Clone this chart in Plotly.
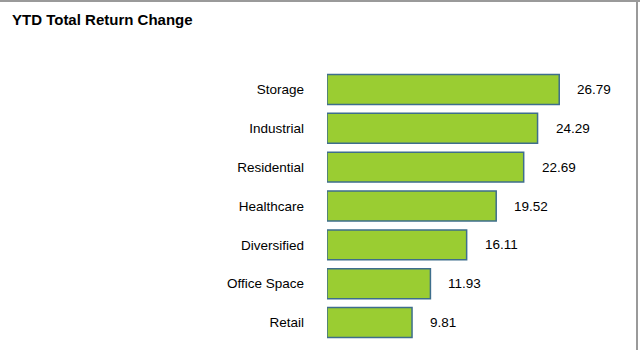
import plotly.graph_objects as go

# YTD total return change by REIT sector
sectors = ["Storage", "Industrial", "Residential", "Healthcare", "Diversified", "Office Space", "Retail"]
returns = [26.79, 24.29, 22.69, 19.52, 16.11, 11.93, 9.81]

W, H = 640, 350
L, R, T, B = 327, 20, 70, 8
x_max = 33.8
FONT = "Liberation Sans, Arial, sans-serif"

fig = go.Figure(
    go.Bar(
        y=sectors,
        x=returns,
        orientation="h",
        marker=dict(color="#9ACD32", line=dict(color="#3E6E8C", width=1.5)),
        hoverinfo="x+y",
    )
)

# value labels just right of each bar
for s, v in zip(sectors, returns):
    fig.add_annotation(
        x=v, y=s, text=f"{v:.2f}", showarrow=False,
        xanchor="left", xshift=16,
        font=dict(family=FONT, size=13.5, color="#000000"),
    )

pw = W - L - R
ph = H - T - B
# thin grey frame at the top and right edge of the page
fig.add_shape(type="line", xref="paper", yref="paper",
              x0=-L / pw, x1=(W - L) / pw, y0=(H - B - 1) / ph, y1=(H - B - 1) / ph,
              line=dict(color="#9a9a9a", width=2))
fig.add_shape(type="line", xref="paper", yref="paper",
              x0=(W - L - 3) / pw, x1=(W - L - 3) / pw, y0=-B / ph, y1=(H - B) / ph,
              line=dict(color="#9a9a9a", width=2))

fig.update_layout(
    width=W, height=H,
    margin=dict(l=L, r=R, t=T, b=B),
    paper_bgcolor="white", plot_bgcolor="white",
    bargap=0.23,
    showlegend=False,
    title=dict(
        text="<b>YTD Total Return Change</b>",
        x=12 / W, xanchor="left", y=1 - 20 / H, yanchor="middle",
        font=dict(family=FONT, size=15, color="#000000"),
    ),
    font=dict(family=FONT, size=13.5, color="#000000"),
)
fig.update_xaxes(range=[0, x_max], visible=False, fixedrange=True)
fig.update_yaxes(
    categoryorder="array", categoryarray=sectors[::-1],
    showline=False, showgrid=False, zeroline=False, ticks="",
    ticklabelstandoff=22, tickfont=dict(size=13.5, color="#000000"),
    fixedrange=True,
)

fig.write_html("out.html")
